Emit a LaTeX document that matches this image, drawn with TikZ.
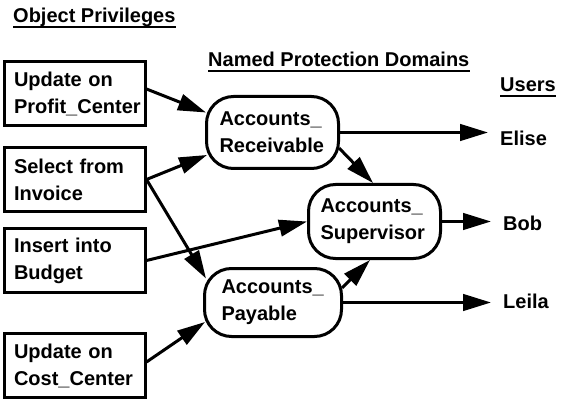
\documentclass[tikz,border=0pt]{standalone}
\usepackage{fontspec}
\setmainfont{Liberation Sans}
\usetikzlibrary{arrows.meta,calc}
\begin{document}
\begin{tikzpicture}[x=1pt,y=-1pt,
  every node/.style={font=\fontsize{20}{27}\selectfont\bfseries},
  privbox/.style={draw,line width=3pt,rectangle,minimum width=141pt,
    minimum height=64pt,inner xsep=10pt,text width=121pt,align=left},
  pdomain/.style={draw,line width=3pt,rounded corners=27pt,align=left},
  arr/.style={line width=3pt,-{Triangle[length=28pt,width=16.5pt]}},
  header/.style={inner sep=0pt,anchor=base west},
  uline/.style={line width=2pt},
  user/.style={inner sep=0pt,anchor=base west}]
\useasboundingbox (0,0) rectangle (564,403);

% column headings
\node[header] (hobj) at (13,23) {Object Privileges};
\node[header] (hdom) at (208,67) {Named Protection Domains};
\node[header] (husr) at (500,92) {Users};
\foreach \h in {hobj,hdom,husr}
  \draw[uline] ([yshift=-4.5pt]\h.base west) -- ([yshift=-4.5pt]\h.base east);

% object privileges
\node[privbox] (b1) at (74.5,94)    {Update on\\Profit\_Center};
\node[privbox] (b2) at (74.5,179.5) {Select from\\Invoice};
\node[privbox] (b3) at (74.5,260.5) {Insert into\\Budget};
\node[privbox] (b4) at (74.5,365.5) {Update on\\Cost\_Center};

% protection domains
\node[pdomain,minimum width=132pt,minimum height=72pt,inner xsep=13pt,
  text width=106pt] (nrec) at (272.5,132.5) {Accounts\_\\Receivable};
\node[pdomain,minimum width=132pt,minimum height=74pt,inner xsep=12pt,
  text width=108pt] (nsup) at (374.5,221.5) {Accounts\_\\Supervisor};
\node[pdomain,minimum width=137pt,minimum height=68pt,inner xsep=17pt,
  text width=103pt] (npay) at (273,302.5) {Accounts\_\\Payable};

% users
\node[user] (elise) at (500,146) {Elise};
\node[user] (bob)   at (503,230) {Bob};
\node[user] (leila) at (503,308) {Leila};

% privileges granted to domains
\draw[arr] ([yshift=5pt]b1.east) -- ([xshift=1pt,yshift=20pt]nrec.west);
\draw[arr] (b2.east) -- ([xshift=2pt,yshift=-22.5pt]nrec.west);
\draw[arr] (b2.east) -- ([xshift=3pt,yshift=24pt]npay.west);
\draw[arr] (b3.east) -- (nsup.west);
\draw[arr] ([yshift=3.5pt]b4.east) -- ([xshift=2pt,yshift=-19.5pt]npay.west);

% domain nesting
\draw[arr] ([xshift=-1pt,yshift=-15.5pt]nrec.east) -- ([xshift=-1.5pt]nsup.north);
\draw[arr] ([xshift=-1pt,yshift=14.5pt]npay.east) -- ([xshift=-4.5pt]nsup.south);

% domains assigned to users
\draw[arr,shorten >=12pt] (nrec.east) -- (nrec.east -| elise.west);
\draw[arr,shorten >=12pt] (nsup.east) -- (nsup.east -| bob.west);
\draw[arr,shorten >=12pt] (npay.east) -- (npay.east -| leila.west);
\end{tikzpicture}
\end{document}
